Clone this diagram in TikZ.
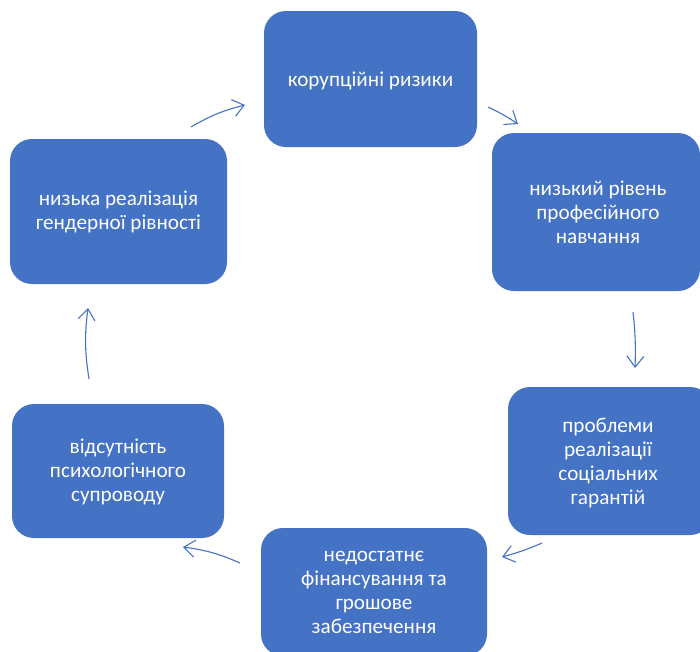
\documentclass[tikz,border=0pt]{standalone}
\usepackage{fontspec}
\setmainfont{Carlito}
\usetikzlibrary{arrows.meta}
\definecolor{boxblue}{HTML}{4472C4}
\definecolor{arrowblue}{HTML}{4472C4}
\tikzset{
  cyclebox/.style={fill=boxblue, rounded corners=22pt},
  boxlabel/.style={text=white, align=center, font=\fontsize{21.2pt}{24pt}\selectfont},
  cyclearrow/.style={draw=arrowblue, line width=1.1pt,
    -{Straight Barb[length=11pt,width=17pt,line width=1.1pt]}}
}
\begin{document}
\begin{tikzpicture}[x=1pt,y=-1pt]
\useasboundingbox (0,0) rectangle (700,651);
% boxes
\path[cyclebox] (264,11) rectangle (477,147);
\node[boxlabel] (b1) at (370.5,81) {корупційні ризики};
\path[cyclebox] (492,133) rectangle (700,291);
\node[boxlabel] (b2) at (598,212) {низький рівень\\професійного\\навчання};
\path[cyclebox] (508,387) rectangle (712,535);
\node[boxlabel] (b3) at (608,463) {проблеми\\реалізації\\соціальних\\гарантій};
\path[cyclebox] (261,528) rectangle (487,656);
\node[boxlabel] (b4) at (374,592) {недостатнє\\фінансування та\\грошове\\забезпечення};
\path[cyclebox] (12,404) rectangle (224,538);
\node[boxlabel] (b5) at (118,472) {відсутність\\психологічного\\супроводу};
\path[cyclebox] (10,139) rectangle (227,284);
\node[boxlabel] (b6) at (118.5,212) {низька реалізація\\гендерної рівності};
% arrow end points
\coordinate (a1s) at (191,127); \coordinate (a1e) at (245,105);
\coordinate (a2s) at (488,107); \coordinate (a2e) at (518,124);
\coordinate (a3s) at (633,312); \coordinate (a3e) at (635,368);
\coordinate (a4s) at (542,543); \coordinate (a4e) at (502,557);
\coordinate (a5s) at (240,563); \coordinate (a5e) at (183,547);
\coordinate (a6s) at (89,379);  \coordinate (a6e) at (88,308);
\draw[cyclearrow] (a1s) to[bend left=8] (a1e);
\draw[cyclearrow] (a2s) to[bend left=4] (a2e);
\draw[cyclearrow] (a3s) to[bend left=4] (a3e);
\draw[cyclearrow] (a4s) to[bend left=4] (a4e);
\draw[cyclearrow] (a5s) to[bend right=8] (a5e);
\draw[cyclearrow] (a6s) to[bend left=8] (a6e);
\end{tikzpicture}
\end{document}
